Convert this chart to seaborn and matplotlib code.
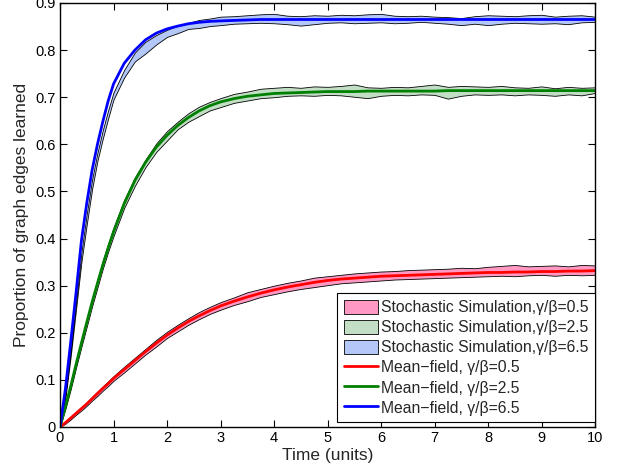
import matplotlib.pyplot as plt
import seaborn as sns
import pandas as pd
from matplotlib.patches import Patch
from matplotlib.lines import Line2D

# time samples (units)
time = [0, 0.1, 0.2, 0.3, 0.4, 0.5, 0.6, 0.7, 0.8, 0.9, 1.0,
        1.2, 1.4, 1.6, 1.8, 2.0, 2.2, 2.4, 2.6, 2.8, 3.0,
        3.25, 3.5, 3.75, 4.0, 4.25, 4.5, 4.75, 5.0, 5.25, 5.5, 5.75, 6.0,
        6.25, 6.5, 6.75, 7.0, 7.25, 7.5, 7.75, 8.0, 8.25, 8.5, 8.75, 9.0,
        9.25, 9.5, 9.75, 10.0]

# mean-field curves
red_mf = [0, 0.009, 0.019, 0.029, 0.039, 0.049, 0.06, 0.071, 0.082, 0.092, 0.103,
          0.122, 0.141, 0.16, 0.178, 0.195, 0.21, 0.224, 0.236, 0.247, 0.257,
          0.267, 0.276, 0.284, 0.291, 0.297, 0.302, 0.307, 0.311, 0.314, 0.316, 0.318, 0.320,
          0.321, 0.322, 0.323, 0.324, 0.325, 0.326, 0.327, 0.328, 0.328, 0.329, 0.329, 0.330,
          0.330, 0.331, 0.331, 0.332]
green_mf = [0, 0.043, 0.086, 0.133, 0.178, 0.222, 0.265, 0.305, 0.344, 0.38, 0.414,
            0.474, 0.523, 0.562, 0.594, 0.619, 0.64, 0.657, 0.671, 0.682, 0.69,
            0.697, 0.702, 0.705, 0.708, 0.709, 0.710, 0.711, 0.712, 0.712, 0.712, 0.713, 0.713,
            0.713, 0.713, 0.713, 0.713, 0.714, 0.714, 0.714, 0.714, 0.714, 0.714, 0.714, 0.714,
            0.714, 0.714, 0.714, 0.714]
blue_mf = [0, 0.08, 0.18, 0.285, 0.395, 0.475, 0.545, 0.60, 0.648, 0.692, 0.728,
           0.772, 0.80, 0.822, 0.836, 0.845, 0.851, 0.856, 0.859, 0.861, 0.862,
           0.863, 0.864, 0.865, 0.865, 0.865, 0.865, 0.865, 0.865, 0.865, 0.865, 0.865, 0.865,
           0.865, 0.865, 0.865, 0.865, 0.865, 0.865, 0.865, 0.865, 0.865, 0.865, 0.865, 0.865,
           0.865, 0.865, 0.865, 0.865]

# stochastic simulation envelopes
red_lo = [0, 0.007, 0.016, 0.026, 0.035, 0.045, 0.056, 0.066, 0.077, 0.087, 0.098,
          0.116, 0.135, 0.154, 0.171, 0.189, 0.203, 0.217, 0.229, 0.240, 0.249,
          0.259, 0.267, 0.276, 0.282, 0.288, 0.293, 0.297, 0.301, 0.305, 0.307, 0.309, 0.311,
          0.313, 0.314, 0.315, 0.316, 0.317, 0.318, 0.319, 0.320, 0.321, 0.320, 0.322, 0.323,
          0.321, 0.323, 0.322, 0.323]
red_hi = [0, 0.011, 0.021, 0.032, 0.042, 0.052, 0.064, 0.075, 0.086, 0.097, 0.108,
          0.128, 0.147, 0.166, 0.185, 0.202, 0.217, 0.231, 0.244, 0.255, 0.265,
          0.275, 0.286, 0.293, 0.300, 0.306, 0.311, 0.317, 0.320, 0.323, 0.326, 0.328, 0.330,
          0.331, 0.333, 0.334, 0.335, 0.336, 0.338, 0.337, 0.340, 0.342, 0.344, 0.341, 0.342,
          0.343, 0.341, 0.344, 0.343]
green_lo = [0, 0.038, 0.08, 0.126, 0.17, 0.213, 0.256, 0.296, 0.336, 0.372, 0.405,
            0.465, 0.512, 0.552, 0.584, 0.608, 0.632, 0.648, 0.660, 0.672, 0.679,
            0.688, 0.693, 0.698, 0.700, 0.703, 0.704, 0.703, 0.705, 0.704, 0.701, 0.698, 0.703,
            0.705, 0.704, 0.706, 0.705, 0.697, 0.703, 0.706, 0.705, 0.706, 0.704, 0.706, 0.705,
            0.703, 0.706, 0.704, 0.709]
green_hi = [0, 0.046, 0.09, 0.138, 0.184, 0.229, 0.273, 0.313, 0.353, 0.389, 0.423,
            0.482, 0.53, 0.568, 0.602, 0.628, 0.648, 0.666, 0.68, 0.69, 0.698,
            0.707, 0.712, 0.718, 0.720, 0.722, 0.720, 0.723, 0.722, 0.724, 0.727, 0.721, 0.720,
            0.722, 0.721, 0.724, 0.727, 0.722, 0.724, 0.723, 0.722, 0.724, 0.721, 0.720, 0.723,
            0.719, 0.722, 0.720, 0.721]
blue_lo = [0, 0.06, 0.15, 0.25, 0.35, 0.43, 0.505, 0.565, 0.612, 0.655, 0.695,
           0.742, 0.776, 0.793, 0.812, 0.828, 0.836, 0.845, 0.847, 0.851, 0.853,
           0.856, 0.857, 0.858, 0.857, 0.855, 0.852, 0.855, 0.858, 0.859, 0.857, 0.858, 0.859,
           0.857, 0.858, 0.860, 0.858, 0.856, 0.853, 0.856, 0.853, 0.856, 0.858, 0.857, 0.856,
           0.857, 0.855, 0.859, 0.860]
blue_hi = [0, 0.07, 0.165, 0.268, 0.37, 0.452, 0.525, 0.582, 0.63, 0.672, 0.71,
           0.758, 0.795, 0.818, 0.832, 0.843, 0.852, 0.858, 0.864, 0.867, 0.871,
           0.872, 0.874, 0.876, 0.877, 0.873, 0.872, 0.874, 0.873, 0.875, 0.874, 0.876, 0.877,
           0.873, 0.872, 0.873, 0.871, 0.870, 0.868, 0.872, 0.874, 0.873, 0.872, 0.874, 0.875,
           0.871, 0.873, 0.874, 0.871]

ratios = ["0.5", "2.5", "6.5"]
line_colors = ["#ff0000", "#008000", "#0000ff"]
fill_colors = ["#ff99c4", "#c2dfc6", "#b3c8f8"]

sns.set_style("ticks")
plt.rcParams['font.family'] = ['Liberation Sans', 'DejaVu Sans']

fig = plt.figure(figsize=(6.21, 4.71), dpi=100)
ax = fig.add_axes([60 / 621, 44 / 471, 535 / 621, 424 / 471])

bands = [(red_lo, red_hi), (green_lo, green_hi), (blue_lo, blue_hi)]
for (lo, hi), fc in zip(bands, fill_colors):
    ax.fill_between(time, lo, hi, facecolor=fc, edgecolor="black", linewidth=0.6)

df = pd.DataFrame({
    "time": time * 3,
    "value": red_mf + green_mf + blue_mf,
    "ratio": [r for r in ratios for _ in time],
})
sns.lineplot(data=df, x="time", y="value", hue="ratio", palette=line_colors,
             linewidth=2, estimator=None, legend=False, ax=ax)

ax.set_xlim(0, 10)
ax.set_ylim(0, 0.9)
ax.set_xticks(range(0, 11))
ax.set_yticks([i / 10 for i in range(10)])
ax.set_yticklabels(["0"] + [f"{i / 10:.1f}" for i in range(1, 10)])
ax.tick_params(direction="in", top=True, right=True, length=5, width=0.8,
               labelsize=10.5, colors="black", pad=3)
for s in ax.spines.values():
    s.set_linewidth(1)
    s.set_color("black")
ax.set_xlabel("Time (units)", fontsize=12.5, labelpad=2)
ax.set_ylabel("Proportion of graph edges learned", fontsize=12.5, labelpad=5)

handles = [Patch(facecolor=fc, edgecolor="black", linewidth=0.6) for fc in fill_colors]
handles += [Line2D([], [], color=c, linewidth=2) for c in line_colors]
labels = [f"Stochastic Simulation,\u03b3/\u03b2={r}" for r in ratios]
labels += [f"Mean\u2212field, \u03b3/\u03b2={r}" for r in ratios]
leg = ax.legend(handles, labels, loc="lower right", bbox_to_anchor=(1, 0.012),
                borderaxespad=0, fontsize=11.3, frameon=True, fancybox=False,
                edgecolor="black", framealpha=1, handlelength=2.2, handleheight=1.0,
                handletextpad=0.2, labelspacing=0.3, borderpad=0.4)
leg.get_frame().set_linewidth(0.8)

fig.savefig("out.png", dpi=100)
